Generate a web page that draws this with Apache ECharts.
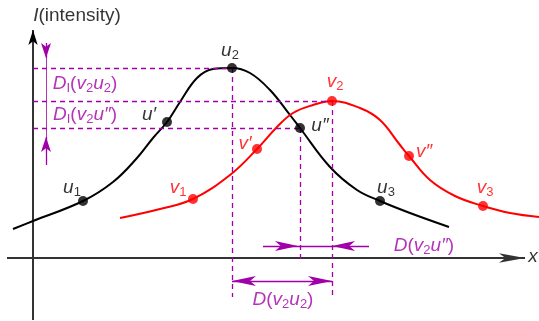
<!DOCTYPE html>
<html><head><meta charset="utf-8">
<script src="https://cdn.jsdelivr.net/npm/echarts@6/dist/echarts.min.js"></script>
<style>html,body{margin:0;padding:0;background:#fff}#c{width:539px;height:321px}</style>
</head><body><div id="c"></div><script>
// Curve samples (x = distance, y = intensity)
const curveU = [[-20,29],[0,37],[50,57],[80,76],[104,100],[120,120],[134,136],[147,156],[164,180],[180,189],[199,190],[217,185],[237,168],[257,143],[267,130],[297,91],[324,68],[347,57],[377,45],[416,31]];
const curveV = [[87,40],[127,49],[160,59],[197,83],[224,109],[244,131],[260,145],[280,153],[299,157],[327,150],[347,138],[367,113],[376,102],[397,78],[422,62],[450,52],[477,45],[506,41]];
// Marked points
const uLabels = ['{i|u}{s|1}','{i|u′}','{i|u}{s|2}','{i|u″}','{i|u}{s|3}'];
const uPoints = [[50,57],[134,136],[199,190],[267,130],[347,57]];
const vLabels = ['{i|v}{s|1}','{i|v′}','{i|v}{s|2}','{i|v″}','{i|v}{s|3}'];
const vPoints = [[160,59],[224,109],[299,157],[376,102],[450,52]];

const MAG = '#a100a8';
const u2 = uPoints[2], uPP = uPoints[3], v2 = vPoints[2];

const chart = echarts.init(document.getElementById('c'), null, {renderer:'canvas'});
const uOff = [[-11,-13],[-18,-7],[-2,-17],[20,-2],[6,-13]];
const vOff = [[-15,-11],[-12,-5],[3,-19],[15,-4],[2,-18]];
const FF = 'Liberation Sans, Arial, sans-serif';
const rich = c => ({
  i:{fontSize:19,fontStyle:'italic',color:c,fontFamily:FF,lineHeight:21,verticalAlign:'middle'},
  n:{fontSize:19,color:c,fontFamily:FF,lineHeight:21,verticalAlign:'middle'},
  s:{fontSize:13,color:c,fontFamily:FF,lineHeight:13,verticalAlign:'bottom',padding:[6,0,0,0]}
});
function ptSeries(pts, labels, offs, color){
  return {type:'scatter', z:5, symbol:'circle', symbolSize:10, itemStyle:{color:color},
    data: pts.map((p,i)=>({value:p, label:{show:true, position:'inside', offset:offs[i], formatter:labels[i], rich:rich(color)}}))};
}
const seg = (a,b,style,s0,s1,sz)=>[{coord:a,symbol:s0||'none',symbolSize:sz||[8,16],lineStyle:style},{coord:b,symbol:s1||'none',symbolSize:sz||[8,16]}];
const dash = {color:MAG,type:[5,4],width:1.3};
const solidM = {color:MAG,type:'solid',width:1.3};
const thinM = {color:MAG,type:'solid',width:0.8};

const texts = [
  {value:[44,242], f:'{i|I}{n|(intensity)}', c:'#000'},
  {value:[52,174], f:'{i|D}{s|I}{n|(}{i|v}{s|2}{i|u}{s|2}{n|)}', c:MAG},
  {value:[52,143], f:'{i|D}{s|I}{n|(}{i|v}{s|2}{i|u″}{n|)}', c:MAG},
  {value:[391,12], f:'{i|D}{n|(}{i|v}{s|2}{i|u″}{n|)}', c:MAG},
  {value:[250,-42], f:'{i|D}{n|(}{i|v}{s|2}{i|u}{s|2}{n|)}', c:MAG},
  {value:[500,1], f:'{i|x}', c:'#000'}
];

chart.setOption({
  animation:false,
  grid:{left:0,right:0,top:0,bottom:0},
  xAxis:{type:'value',min:-33,max:506,show:false},
  yAxis:{type:'value',min:-63,max:258,show:false},
  series:[
    {type:'line', z:1, data:[[0,0]], symbol:'none', lineStyle:{width:0},
     markLine:{silent:true, animation:false, label:{show:false},
      data:[
        seg([0,-62],[0,228],{color:'#000',width:1.6,type:'solid'},'none','arrow',[7,15]),
        seg([-26,0],[492,0],{color:'#333',width:2,type:'solid'},'none','arrow',[7,26]),
        seg([0,u2[1]],u2,dash),
        seg([0,v2[1]],v2,dash),
        seg([0,uPP[1]],uPP,dash),
        seg(u2,[u2[0],-39],dash),
        seg(uPP,[uPP[0],-4],dash),
        seg(v2,[v2[0],-39],dash),
        seg([13,u2[1]+25],[13,u2[1]+10],solidM,'none','arrow',[7.5,15]),
        seg([13,u2[1]+10],[13,uPP[1]-9],thinM),
        seg([13,uPP[1]-37],[13,uPP[1]-9],solidM,'none','arrow',[7.5,15]),
        seg([uPP[0]-37,12],[uPP[0]-2,12],solidM,'none','arrow',[7.5,23]),
        seg([uPP[0]-2,12],[v2[0],12],solidM),
        seg([v2[0]+37,12],[v2[0],12],solidM,'none','arrow',[7.5,23]),
        seg([u2[0],-23],[v2[0],-23],solidM,'arrow','arrow',[7.5,24])
      ]}},
    {type:'line', z:3, data:curveU, smooth:0.4, symbol:'none', lineStyle:{color:'#000',width:2}},
    {type:'line', z:3, data:curveV, smooth:0.4, symbol:'none', lineStyle:{color:'#ff0000',width:2}},
    ptSeries(uPoints,uLabels,uOff,'#000000'),
    ptSeries(vPoints,vLabels,vOff,'#ff0000'),
    {type:'scatter', z:6, symbolSize:0, data: texts.map(t=>({value:t.value, label:{show:true, position:'inside', formatter:t.f, rich:rich(t.c)}}))}
  ]
});
</script></body></html>
